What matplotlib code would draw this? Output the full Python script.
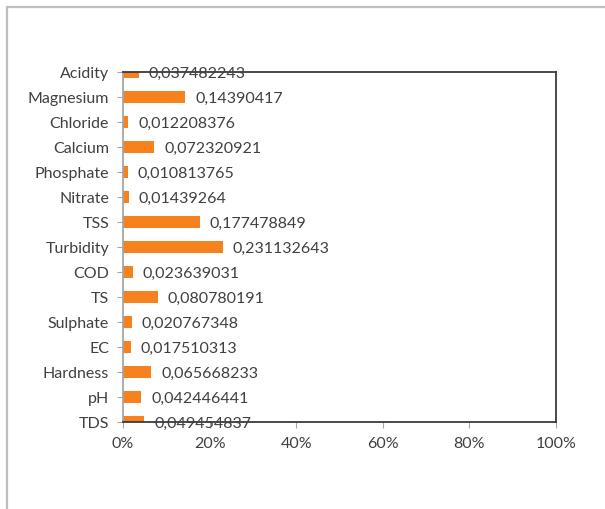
import matplotlib.pyplot as plt
from matplotlib.patches import Rectangle
from matplotlib.ticker import PercentFormatter

plt.rcParams['font.family'] = ['Lato', 'DejaVu Sans']

parametros = ['TDS', 'pH', 'Hardness', 'EC', 'Sulphate', 'TS', 'COD', 'Turbidity',
              'TSS', 'Nitrate', 'Phosphate', 'Calcium', 'Chloride', 'Magnesium', 'Acidity']
pesos = [0.049454837, 0.042446441, 0.065668233, 0.017510313, 0.020767348,
         0.080780191, 0.023639031, 0.231132643, 0.177478849, 0.01439264,
         0.010813765, 0.072320921, 0.012208376, 0.14390417, 0.037482243]
rotulos = ['0,049454837', '0,042446441', '0,065668233', '0,017510313', '0,020767348',
           '0,080780191', '0,023639031', '0,231132643', '0,177478849', '0,01439264',
           '0,010813765', '0,072320921', '0,012208376', '0,14390417', '0,037482243']

cor_texto = '#404040'
tam = 11.5

fig = plt.figure(figsize=(6.05, 5.09), dpi=100)
# moldura cinza em volta da figura
fig.patches.append(Rectangle((0.012, -0.05), 1.1, 0.037 + 1.0, transform=fig.transFigure,
                             fill=False, edgecolor='#bfbfbf', linewidth=1.6))

ax = fig.add_axes([0.2033, 0.1709, 0.7157, 0.6876])
posicoes = range(len(parametros))
ax.barh(posicoes, pesos, height=0.47, color='#F5821F')

for y, v, r in zip(posicoes, pesos, rotulos):
    ax.annotate(r, (v, y), xytext=(7, 0), textcoords='offset points',
                va='center_baseline', ha='left', fontsize=tam, color=cor_texto,
                annotation_clip=False)

ax.set_xlim(0, 1)
ax.set_ylim(0, len(parametros) - 1)
ax.set_xticks([0, 0.2, 0.4, 0.6, 0.8, 1.0])
ax.xaxis.set_major_formatter(PercentFormatter(1.0, decimals=0))
ax.set_yticks(list(posicoes))
ax.set_yticklabels(parametros)

for lado in ['top', 'right', 'bottom']:
    ax.spines[lado].set_color('#3a3a3a')
    ax.spines[lado].set_linewidth(1.3)
ax.spines['left'].set_color('#a6a6a6')
ax.spines['left'].set_linewidth(1.3)

ax.tick_params(axis='y', length=4, color='#a6a6a6', labelsize=tam,
               labelcolor=cor_texto, pad=6)
ax.tick_params(axis='x', length=4, color='#a6a6a6', labelsize=tam,
               labelcolor=cor_texto, pad=7)

fig.savefig('out.png', dpi=100)
